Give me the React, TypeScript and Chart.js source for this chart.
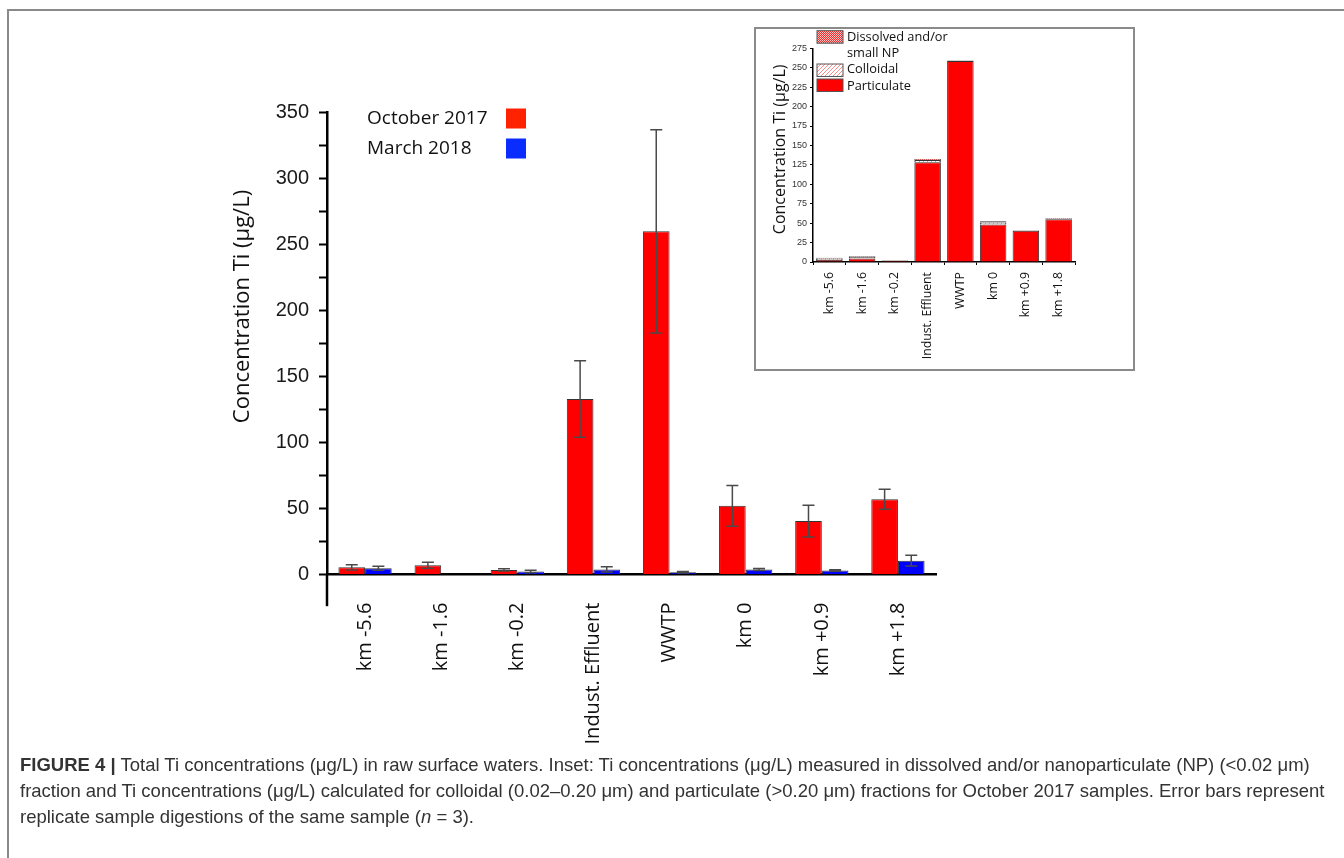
import React, { useEffect, useRef } from "react";
import { Chart, registerables } from "chart.js";
Chart.register(...registerables);

// ---------- data ----------
const CATEGORIES = ["km -5.6", "km -1.6", "km -0.2", "Indust. Effluent", "WWTP", "km 0", "km +0.9", "km +1.8"];
const OCT_2017 = [5.4, 7.0, 3.5, 133, 260, 52, 40.5, 57];
const OCT_2017_ERR = [1.9, 2.3, 0.8, 29, 77, 15.5, 12, 7.6];
const MAR_2018 = [4.8, null, 2.3, 3.8, 1.7, 3.8, 3.0, 10.5];
const MAR_2018_ERR = [1.5, null, 1.0, 2.0, 0.5, 0.8, 0.6, 4.0];
const MAIN_Y_TICKS = [0, 25, 50, 75, 100, 125, 150, 175, 200, 225, 250, 275, 300, 325, 350];
const MAIN_Y_LABELED = [0, 50, 100, 150, 200, 250, 300, 350];

const INSET_PARTICULATE = [2.5, 4.5, 2.0, 128.5, 258.5, 48.4, 40.3, 55.0];
const INSET_COLLOIDAL = [1.6, 1.8, 0.3, 2.6, 0.6, 2.5, 0.4, 0.8];
const INSET_DISSOLVED = [1.4, 1.0, 0.3, 1.4, 0.5, 1.4, 0.4, 0.8];
const INSET_Y_TICKS = [0, 12.5, 25, 37.5, 50, 62.5, 75, 87.5, 100, 112.5, 125, 137.5, 150, 162.5, 175, 187.5, 200, 212.5, 225, 237.5, 250, 262.5, 275];
const INSET_Y_LABELED = [0, 25, 50, 75, 100, 125, 150, 175, 200, 225, 250, 275];

const MAIN_SERIES = ["October 2017", "March 2018"];
const INSET_SERIES = ["Particulate", "Colloidal", "Dissolved and/or small NP"];
const INSET_LEGEND_LINES = [["Dissolved and/or", "small NP"], ["Colloidal"], ["Particulate"]];
const Y_TITLE = "Concentration Ti (µg/L)";

// ---------- helpers ----------
function makePattern(kind: string) {
  const c = document.createElement("canvas");
  c.width = 4;
  c.height = 4;
  const g = c.getContext("2d")!;
  if (kind === "dots") {
    g.fillStyle = "#ffc4c4";
    g.fillRect(0, 0, 4, 4);
    g.fillStyle = "#f22a2a";
    for (let y = 0; y < 4; y++) for (let x = 0; x < 4; x++) if ((x + y) % 2 === 0) g.fillRect(x, y, 1, 1);
  } else {
    g.fillStyle = "#ffffff";
    g.fillRect(0, 0, 4, 4);
    g.fillStyle = "#ff8a8a";
    for (let i = 0; i < 4; i++) g.fillRect(i, 3 - i, 1, 1);
  }
  return g.createPattern(c, "repeat")!;
}

function errorBarsPlugin(capHalf: number, color: string, width: number) {
  return {
    id: "errorBars",
    afterDatasetsDraw(chart: any) {
      const ctx = chart.ctx;
      chart.data.datasets.forEach((ds: any, i: number) => {
        if (!ds.errors) return;
        const meta = chart.getDatasetMeta(i);
        const ys = chart.scales[meta.yAxisID];
        meta.data.forEach((bar: any, j: number) => {
          const v = ds.data[j];
          const e = ds.errors[j];
          if (v == null || e == null) return;
          const x = bar.x;
          const yt = ys.getPixelForValue(v + e);
          const yb = ys.getPixelForValue(Math.max(v - e, 0));
          ctx.save();
          ctx.strokeStyle = color;
          ctx.lineWidth = width;
          ctx.beginPath();
          ctx.moveTo(x, yt);
          ctx.lineTo(x, yb);
          ctx.moveTo(x - capHalf, yt);
          ctx.lineTo(x + capHalf, yt);
          ctx.moveTo(x - capHalf, yb);
          ctx.lineTo(x + capHalf, yb);
          ctx.stroke();
          ctx.restore();
        });
      });
    },
  };
}

function yTitlePlugin(text: string, dx: number, atValue: number, font: string) {
  return {
    id: "yTitle",
    afterDraw(chart: any) {
      const { ctx, chartArea } = chart;
      const ys = chart.scales.y;
      ctx.save();
      ctx.translate(chartArea.left + dx, ys.getPixelForValue(atValue));
      ctx.rotate(-Math.PI / 2);
      ctx.font = font;
      ctx.fillStyle = "#111";
      ctx.textAlign = "center";
      ctx.textBaseline = "middle";
      ctx.fillText(text, 0, 0);
      ctx.restore();
    },
  };
}

const axisExtension = {
  id: "axisExtension",
  afterDraw(chart: any) {
    const { ctx, chartArea } = chart;
    const ys = chart.scales.y;
    ctx.save();
    ctx.strokeStyle = "#000";
    ctx.lineWidth = 2.5;
    ctx.beginPath();
    ctx.moveTo(chartArea.left, chartArea.bottom);
    ctx.lineTo(chartArea.left, ys.getPixelForValue(-24));
    ctx.stroke();
    ctx.restore();
  },
};

const mainLegend = {
  id: "mainLegend",
  afterDraw(chart: any) {
    const { ctx, chartArea } = chart;
    ctx.save();
    chart.data.datasets.forEach((ds: any, i: number) => {
      const cy = chartArea.top + 6 + i * 30;
      ctx.font = '19px "Open Sans", sans-serif';
      ctx.fillStyle = "#111";
      ctx.textAlign = "left";
      ctx.textBaseline = "middle";
      ctx.fillText(ds.label, chartArea.left + 40, cy);
      ctx.fillStyle = ds.legendColor;
      ctx.fillRect(chartArea.left + 179, cy - 10, 20, 20);
    });
    ctx.restore();
  },
};

const insetLegend = {
  id: "insetLegend",
  afterDraw(chart: any) {
    const { ctx, chartArea } = chart;
    const ds = chart.data.datasets;
    const order = [2, 1, 0];
    const swatchTops = [-17.6, 15.7, 30.7];
    const lineYs = [[-11.3, 4.7], [20.7], [37.7]];
    ctx.save();
    order.forEach((di, k) => {
      const x = chartArea.left + 4;
      const y = chartArea.top + swatchTops[k];
      ctx.fillStyle = ds[di].backgroundColor;
      ctx.fillRect(x, y, 26, 12.5);
      ctx.strokeStyle = "#555";
      ctx.lineWidth = 1;
      ctx.strokeRect(x, y, 26, 12.5);
      ctx.font = '12.8px "Open Sans", sans-serif';
      ctx.fillStyle = "#111";
      ctx.textAlign = "left";
      ctx.textBaseline = "middle";
      INSET_LEGEND_LINES[k].forEach((line, li) => {
        ctx.fillText(line, chartArea.left + 34, chartArea.top + lineYs[k][li]);
      });
    });
    ctx.restore();
  },
};

function fixTicks(values: number[]) {
  return (scale: any) => {
    scale.ticks = values.map((v) => ({ value: v }));
  };
}

// ---------- component ----------
export default function App() {
  const mainRef = useRef<HTMLCanvasElement>(null);
  const insetRef = useRef<HTMLCanvasElement>(null);

  useEffect(() => {
    const main = new Chart(mainRef.current!, {
      type: "bar",
      data: {
        labels: CATEGORIES,
        datasets: [
          {
            label: MAIN_SERIES[0],
            data: OCT_2017,
            errors: OCT_2017_ERR,
            backgroundColor: "#ff0000",
            legendColor: "#ff2200",
            borderColor: "#333",
            borderWidth: 1,
          } as any,
          {
            label: MAIN_SERIES[1],
            data: MAR_2018,
            errors: MAR_2018_ERR,
            backgroundColor: "#0000ff",
            legendColor: "#0a2cff",
            borderColor: "#333",
            borderWidth: 1,
          } as any,
        ],
      },
      options: {
        responsive: false,
        animation: false,
        events: [],
        categoryPercentage: 0.7,
        barPercentage: 1.0,
        layout: { padding: { top: 32.5, right: 24, bottom: 0, left: 0 } },
        plugins: { legend: { display: false }, tooltip: { enabled: false }, title: { display: false } },
        scales: {
          x: {
            grid: { display: false },
            border: { display: true, color: "#000", width: 2.5 },
            ticks: {
              autoSkip: false,
              minRotation: 90,
              maxRotation: 90,
              padding: 20,
              color: "#111",
              font: { family: '"Open Sans", sans-serif', size: 20 },
            },
            afterFit: (s: any) => {
              s.height = 195.5;
            },
          },
          y: {
            min: 0,
            max: 350,
            afterBuildTicks: fixTicks(MAIN_Y_TICKS),
            grid: { display: true, drawOnChartArea: false, drawTicks: true, tickLength: 8, tickColor: "#000", tickWidth: 2 },
            border: { display: true, color: "#000", width: 2.5 },
            ticks: {
              padding: 10,
              color: "#1a1a1a",
              font: { family: '"Liberation Sans", Arial, sans-serif', size: 20 },
              callback: (v: any) => (MAIN_Y_LABELED.includes(Number(v)) ? String(v) : ""),
            },
            afterFit: (s: any) => {
              s.width = 127;
            },
          },
        },
      } as any,
      plugins: [
        errorBarsPlugin(6, "#4a4a4a", 1.5),
        axisExtension,
        mainLegend,
        yTitlePlugin(Y_TITLE, -84, 203, '22px "Open Sans", sans-serif'),
      ],
    });

    const inset = new Chart(insetRef.current!, {
      type: "bar",
      data: {
        labels: CATEGORIES,
        datasets: [
          { label: INSET_SERIES[0], data: INSET_PARTICULATE, backgroundColor: "#ff0000", borderColor: "#333", borderWidth: 1 },
          { label: INSET_SERIES[1], data: INSET_COLLOIDAL, backgroundColor: makePattern("stripes"), borderColor: "#333", borderWidth: 1 },
          { label: INSET_SERIES[2], data: INSET_DISSOLVED, backgroundColor: makePattern("dots"), borderColor: "#333", borderWidth: 1 },
        ] as any,
      },
      options: {
        responsive: false,
        animation: false,
        events: [],
        categoryPercentage: 0.81,
        barPercentage: 1.0,
        layout: { padding: { top: 19.3, right: 58, bottom: 0, left: 0 } },
        plugins: { legend: { display: false }, tooltip: { enabled: false }, title: { display: false } },
        scales: {
          x: {
            stacked: true,
            grid: { display: true, drawOnChartArea: false, offset: true, drawTicks: true, tickLength: 3, tickColor: "#000", tickWidth: 1 },
            border: { display: true, color: "#000", width: 1.5 },
            ticks: {
              autoSkip: false,
              minRotation: 90,
              maxRotation: 90,
              padding: 7,
              color: "#111",
              font: { family: '"Open Sans", sans-serif', size: 12.3 },
            },
            afterFit: (s: any) => {
              s.height = 107;
            },
          },
          y: {
            stacked: true,
            min: 0,
            max: 275,
            afterBuildTicks: fixTicks(INSET_Y_TICKS),
            grid: { display: true, drawOnChartArea: false, drawTicks: true, tickLength: 3, tickColor: "#000", tickWidth: 1 },
            border: { display: true, color: "#000", width: 1.5 },
            ticks: {
              padding: 3,
              color: "#333",
              font: { family: '"Liberation Sans", Arial, sans-serif', size: 9 },
              callback: (v: any) => (INSET_Y_LABELED.includes(Number(v)) ? String(v) : ""),
            },
            afterFit: (s: any) => {
              s.width = 57;
            },
          },
        },
      } as any,
      plugins: [insetLegend, yTitlePlugin(Y_TITLE, -33, 145, '16px "Open Sans", sans-serif')],
    });

    return () => {
      main.destroy();
      inset.destroy();
    };
  }, []);

  return (
    <div style={{ position: "absolute", left: 0, top: 0, width: 1344, height: 858, overflow: "hidden", background: "#fff" }}>
      <div
        style={{
          position: "absolute",
          left: 7,
          top: 9,
          width: 1337,
          height: 849,
          borderTop: "2px solid #8a8a8a",
          borderLeft: "2px solid #8a8a8a",
          boxSizing: "border-box",
        }}
      />
      <div style={{ position: "absolute", left: 200, top: 80, width: 760, height: 690 }}>
        <canvas ref={mainRef} width={760} height={690} style={{ width: 760, height: 690, display: "block" }} />
      </div>
      <div
        style={{
          position: "absolute",
          left: 754,
          top: 27,
          width: 381,
          height: 344,
          border: "2px solid #8a8a8a",
          boxSizing: "border-box",
          background: "#fff",
        }}
      />
      <div style={{ position: "absolute", left: 756, top: 29, width: 377, height: 340 }}>
        <canvas ref={insetRef} width={377} height={340} style={{ width: 377, height: 340, display: "block" }} />
      </div>
      <div
        style={{
          position: "absolute",
          left: 20,
          top: 752,
          fontFamily: '"Liberation Sans Narrow", "Liberation Sans", Arial, sans-serif',
          fontSize: 18.5,
          lineHeight: "26px",
          color: "#333",
          whiteSpace: "nowrap",
        }}
      >
        <b>FIGURE 4 |</b> Total Ti concentrations (μg/L) in raw surface waters. Inset: Ti concentrations (μg/L) measured in
        dissolved and/or nanoparticulate (NP) (&lt;0.02 μm)
        <br />
        fraction and Ti concentrations (μg/L) calculated for colloidal (0.02–0.20 μm) and particulate (&gt;0.20 μm) fractions for
        October 2017 samples. Error bars represent
        <br />
        replicate sample digestions of the same sample (<i>n</i> = 3).
      </div>
    </div>
  );
}
